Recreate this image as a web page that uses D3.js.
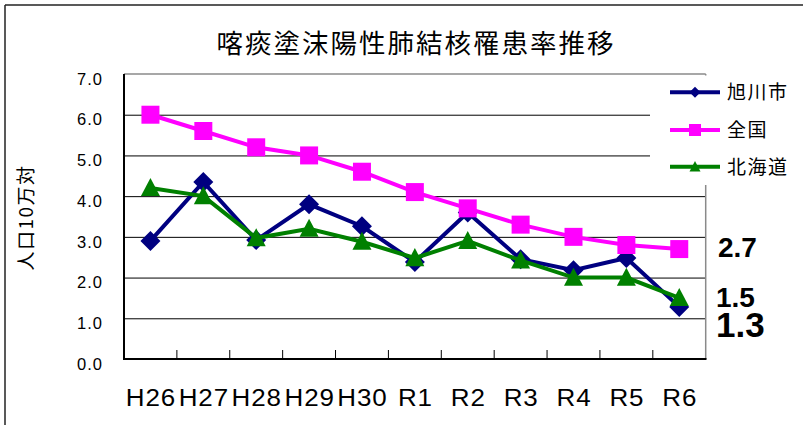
<!DOCTYPE html>
<html>
<head>
<meta charset="utf-8">
<script src="https://cdn.jsdelivr.net/npm/d3@7"></script>
<style>
  html, body { margin: 0; padding: 0; background: #fff; }
  svg { display: block; }
</style>
</head>
<body>
<script>
// ---- data ----
const categories = ["H26", "H27", "H28", "H29", "H30", "R1", "R2", "R3", "R4", "R5", "R6"];
const asahikawa = [2.9, 4.35, 2.92, 3.8, 3.26, 2.38, 3.6, 2.45, 2.18, 2.48, 1.28];
const zenkoku   = [6.0, 5.6, 5.2, 5.0, 4.6, 4.1, 3.7, 3.3, 3.0, 2.8, 2.7];
const hokkaido  = [4.2, 4.0, 2.97, 3.2, 2.88, 2.48, 2.9, 2.42, 2.0, 2.0, 1.5];
const seriesNames = ["旭川市", "全国", "北海道"];
const yTicks = [0, 1, 2, 3, 4, 5, 6, 7];
const titleText = "喀痰塗沫陽性肺結核罹患率推移";
const yLabelText = "人口10万対";
const sideLabels = ["2.7", "1.5", "1.3"];

// ---- layout ----
const W = 808, H = 425;
const plot = { left: 124, right: 705.7, top: 74, bottom: 359 };
const colors = ["#000080", "#FF00FF", "#008000"];
const shapes = ["diamond", "square", "triangle"];

const svg = d3.select("body").append("svg").attr("width", W).attr("height", H);

// outer frame (top and left visible)
svg.append("line").attr("x1", 5).attr("y1", 5).attr("x2", 803).attr("y2", 5)
  .attr("stroke", "#222").attr("stroke-width", 1.5);
svg.append("line").attr("x1", 5).attr("y1", 5).attr("x2", 5).attr("y2", H)
  .attr("stroke", "#222").attr("stroke-width", 1.5);

const x = d3.scaleBand().domain(categories).range([plot.left, plot.right]);
const y = d3.scaleLinear().domain([0, 7]).range([plot.bottom, plot.top]);

// gridlines
const grid = svg.append("g").attr("transform", `translate(${plot.left},0)`)
  .call(d3.axisLeft(y).tickValues(yTicks.filter(d => d > 0 && d < 7))
    .tickSize(-(plot.right - plot.left)).tickFormat(""));
grid.select(".domain").remove();
grid.selectAll(".tick line").attr("stroke", "#000").attr("stroke-width", 1);

// plot border (top, right) gray
svg.append("line").attr("x1", plot.left).attr("y1", plot.top).attr("x2", plot.right).attr("y2", plot.top)
  .attr("stroke", "#8a8a8a").attr("stroke-width", 1.5);
svg.append("line").attr("x1", plot.right).attr("y1", plot.top).attr("x2", plot.right).attr("y2", plot.bottom)
  .attr("stroke", "#8a8a8a").attr("stroke-width", 1.5);

// y tick labels
const yAxis = svg.append("g").attr("transform", `translate(${plot.left},0)`)
  .call(d3.axisLeft(y).tickValues(yTicks).tickSize(0).tickPadding(21).tickFormat(d3.format(".1f")));
yAxis.select(".domain").remove();
yAxis.selectAll("text")
  .attr("font-family", "'Liberation Sans', Arial, sans-serif")
  .attr("font-size", 16.5).attr("letter-spacing", "1px").attr("fill", "#000")
  .attr("dy", "0.62em");

// x labels
const xAxis = svg.append("g").attr("transform", `translate(0,${plot.bottom})`)
  .call(d3.axisBottom(x).tickSize(0).tickPadding(0));
xAxis.select(".domain").remove();
xAxis.selectAll("text")
  .attr("font-family", "'Liberation Sans', Arial, sans-serif")
  .attr("font-size", 23).attr("letter-spacing", "0.8px").attr("fill", "#000")
  .attr("y", 47.5).attr("dy", 0).attr("x", 0.5)
  .attr("transform", "scale(1.13,1)");

// legend background (covers gridlines)
svg.append("rect").attr("x", 650).attr("y", 75.5).attr("width", W - 650).attr("height", 109.5)
  .attr("fill", "#fff");

// axes lines (left and bottom) and category ticks
svg.append("line").attr("x1", plot.left).attr("y1", plot.top).attr("x2", plot.left).attr("y2", plot.bottom + 1)
  .attr("stroke", "#000").attr("stroke-width", 2);
svg.append("line").attr("x1", plot.left).attr("y1", plot.bottom).attr("x2", plot.right + 0.8).attr("y2", plot.bottom)
  .attr("stroke", "#000").attr("stroke-width", 2);
svg.append("g").selectAll("line").data(categories.slice(1)).join("line")
  .attr("x1", d => x(d)).attr("x2", d => x(d))
  .attr("y1", plot.bottom).attr("y2", plot.bottom - 9)
  .attr("stroke", "#000").attr("stroke-width", 1);

// marker generator
function markerPath(shape, s) {
  if (shape === "diamond") return `M0,${-s}L${s},0L0,${s}L${-s},0Z`;
  if (shape === "square") return `M${-s},${-s}H${s}V${s}H${-s}Z`;
  const h = s * 1.9;
  return `M0,${-h * 0.55}L${s},${h * 0.45}L${-s},${h * 0.45}Z`;
}

const allSeries = [asahikawa, zenkoku, hokkaido];
const line = d3.line().x((d, i) => x(categories[i]) + x.bandwidth() / 2).y(d => y(d));
const markerSizes = [10, 9, 9.5];

allSeries.forEach((vals, si) => {
  const g = svg.append("g");
  g.append("path").attr("d", line(vals)).attr("fill", "none")
    .attr("stroke", colors[si]).attr("stroke-width", 4).attr("stroke-linejoin", "miter");
  g.selectAll("path.m").data(vals).join("path").attr("class", "m")
    .attr("transform", (d, i) => `translate(${x(categories[i]) + x.bandwidth() / 2},${y(d)})`)
    .attr("d", markerPath(shapes[si], markerSizes[si]))
    .attr("fill", colors[si]);
});

// legend
const legY = [92.3, 130, 166.7];
const leg = svg.append("g");
seriesNames.forEach((name, i) => {
  leg.append("line").attr("x1", 670).attr("x2", 720).attr("y1", legY[i]).attr("y2", legY[i])
    .attr("stroke", colors[i]).attr("stroke-width", 4);
  leg.append("path").attr("transform", `translate(695,${legY[i]})`)
    .attr("d", markerPath(shapes[i], i === 1 ? 6 : 5.5)).attr("fill", colors[i]);
  leg.append("text").attr("x", 727).attr("y", legY[i]).attr("dy", "0.36em")
    .attr("font-family", "'Noto Sans CJK JP', sans-serif").attr("font-size", 19)
    .attr("letter-spacing", "1.5px").attr("fill", "#000").text(name);
});

// title
svg.append("text").attr("x", 416).attr("y", 52.5).attr("text-anchor", "middle")
  .attr("font-family", "'Noto Sans CJK JP', sans-serif").attr("font-size", 26.5)
  .attr("letter-spacing", "2px").attr("fill", "#000").text(titleText);

// y axis title
svg.append("text").attr("transform", "translate(33,217.5) rotate(-90)").attr("text-anchor", "middle")
  .attr("font-family", "'Noto Sans CJK JP', sans-serif").attr("font-size", 19)
  .attr("letter-spacing", "1.5px").attr("fill", "#000").text(yLabelText);

// side value labels
const sideY = [256.7, 306.7, 336.7];
const sideSize = [28, 28, 35];
sideLabels.forEach((t, i) => {
  svg.append("text").attr("x", i === 0 ? 718 : 716).attr("y", sideY[i])
    .attr("font-family", "'Liberation Sans', Arial, sans-serif").attr("font-weight", "bold")
    .attr("font-size", sideSize[i]).attr("fill", "#000").text(t);
});
</script>
</body>
</html>
